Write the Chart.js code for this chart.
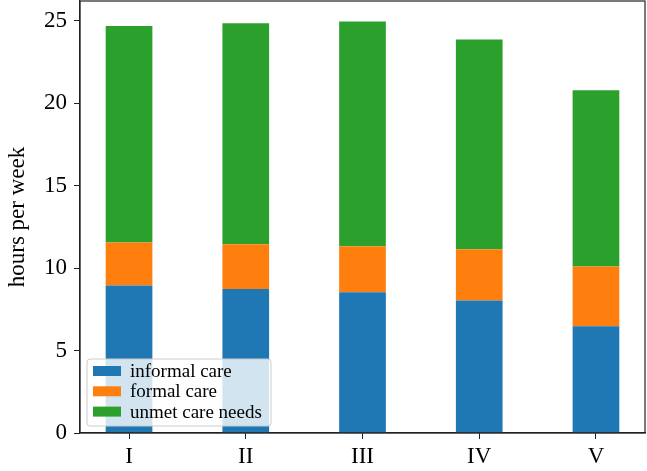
<!DOCTYPE html>
<html>
<head>
<meta charset="utf-8">
<script src="https://cdn.jsdelivr.net/npm/chart.js@4.4.0/dist/chart.umd.min.js"></script>
<style>
  html, body { margin: 0; padding: 0; background: #fff; }
  #wrap { width: 647px; height: 471px; }
</style>
</head>
<body>
<div id="wrap"><canvas id="careChart"></canvas></div>
<script>
// categories and series (hours per week)
const categories = ['I', 'II', 'III', 'IV', 'V'];
const informalCare = [8.95, 8.73, 8.53, 8.04, 6.47];
const formalCare = [2.61, 2.71, 2.80, 3.11, 3.63];
const unmetNeeds = [13.13, 13.41, 13.62, 12.71, 10.69];
const yTicks = [0, 5, 10, 15, 20, 25];

const seriesNames = ['informal care', 'formal care', 'unmet care needs'];
const seriesColors = ['#1f77b4', '#ff7f0e', '#2ca02c'];
const FONT = '"Liberation Serif", "Times New Roman", serif';

// turn a list of values into {x, y} points on the numeric x axis
function toPoints(values) {
    return values.map((v, i) => ({ x: i, y: v }));
}

// frame around the plot + legend box inside the axes
const framePlugin = {
    id: 'frame',
    afterDraw(chart) {
        const { ctx, chartArea: a } = chart;
        ctx.save();
        ctx.strokeStyle = '#222';
        ctx.lineWidth = 1.2;
        ctx.strokeRect(a.left, a.top, a.right - a.left, a.bottom - a.top);

        // legend, lower left
        const bx = a.left + 7, by = a.bottom - 74, bw = 184, bh = 67;
        ctx.beginPath();
        ctx.roundRect(bx, by, bw, bh, 3);
        ctx.fillStyle = 'rgba(255,255,255,0.8)';
        ctx.fill();
        ctx.strokeStyle = '#cccccc';
        ctx.lineWidth = 1;
        ctx.stroke();

        ctx.font = '19px ' + FONT;
        ctx.textBaseline = 'middle';
        ctx.textAlign = 'left';
        chart.data.datasets.forEach((ds, i) => {
            const cy = by + 12 + i * 20.3;
            ctx.fillStyle = ds.backgroundColor;
            ctx.fillRect(bx + 6, cy - 5, 28, 10);
            ctx.fillStyle = '#000';
            ctx.fillText(ds.label, bx + 43, cy + 1);
        });
        ctx.restore();
    }
};

const ctx = document.getElementById('careChart').getContext('2d');
const careChart = new Chart(ctx, {
    type: 'bar',
    data: {
        datasets: [informalCare, formalCare, unmetNeeds].map((vals, i) => ({
            label: seriesNames[i],
            data: toPoints(vals),
            backgroundColor: seriesColors[i],
            borderWidth: 0,
            barPercentage: 0.4,
            categoryPercentage: 1.0
        }))
    },
    options: {
        responsive: true,
        maintainAspectRatio: false,
        animation: false,
        layout: { padding: { top: 1, right: 2, left: 0, bottom: 0 } },
        plugins: {
            legend: { display: false },
            tooltip: { enabled: false }
        },
        scales: {
            x: {
                type: 'linear',
                stacked: true,
                offset: false,
                min: -0.42,
                max: 4.42,
                afterBuildTicks: s => { s.ticks = categories.map((c, i) => ({ value: i })); },
                afterFit: s => { s.height = 38; s.paddingLeft = 0; s.paddingRight = 0; },
                grid: { display: true, offset: false, drawOnChartArea: false, drawTicks: true, tickLength: 6, color: '#222' },
                border: { display: true, color: '#222', width: 1.2 },
                ticks: {
                    color: '#000',
                    padding: 4,
                    maxRotation: 0,
                    font: { family: FONT, size: 23 },
                    callback: v => categories[v]
                }
            },
            y: {
                stacked: true,
                min: 0,
                max: 26.2,
                afterBuildTicks: s => { s.ticks = yTicks.map(v => ({ value: v })); },
                afterFit: s => { s.width = 80; s.paddingTop = 0; s.paddingBottom = 0; },
                grid: { display: true, drawOnChartArea: false, drawTicks: true, tickLength: 6, color: '#222' },
                border: { display: true, color: '#222', width: 1.2 },
                ticks: {
                    color: '#000',
                    padding: 7,
                    font: { family: FONT, size: 23 }
                },
                title: {
                    display: true,
                    text: 'hours per week',
                    color: '#000',
                    padding: { top: 4, bottom: 0 },
                    font: { family: FONT, size: 23 }
                }
            }
        }
    },
    plugins: [framePlugin]
});
</script>
</body>
</html>
